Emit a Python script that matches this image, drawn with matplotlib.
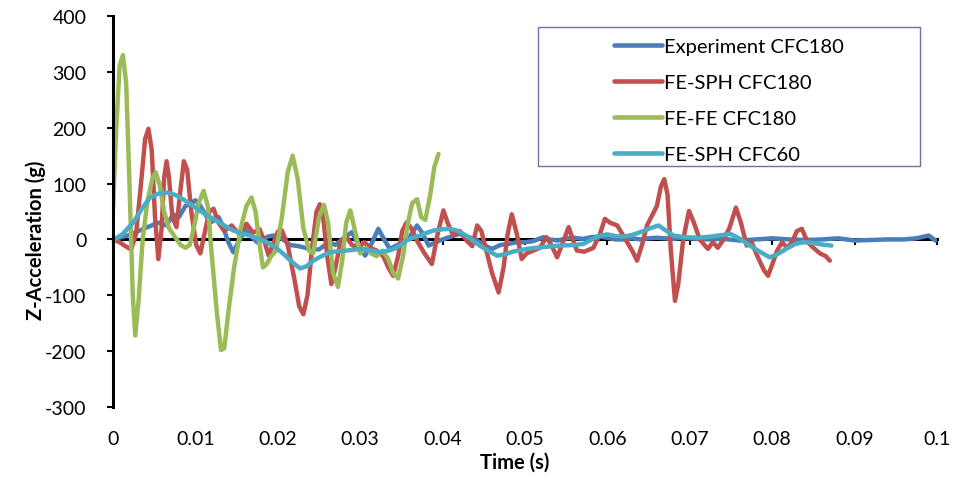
import matplotlib
matplotlib.use("Agg")
import matplotlib.pyplot as plt
from matplotlib.patches import Rectangle

plt.rcParams['font.family'] = ['Lato', 'DejaVu Sans']
plt.rcParams['axes.unicode_minus'] = False

# ---------------- data ----------------
exp_t = [0, 0.002, 0.0037, 0.0055, 0.0065, 0.0073, 0.0080, 0.0088, 0.0095, 0.0100, 0.0106, 0.0112,
         0.0118, 0.0124, 0.0128, 0.0133, 0.0140, 0.0146, 0.0152, 0.0158, 0.0162, 0.0168, 0.0175,
         0.0182, 0.0188, 0.0195, 0.0203, 0.0215, 0.0225, 0.0239, 0.0250, 0.0262, 0.0270, 0.0278,
         0.0285, 0.0290, 0.0298, 0.0306, 0.0313, 0.0322, 0.0329, 0.0336, 0.0345, 0.0352, 0.0360,
         0.0369, 0.0376, 0.0383, 0.0392, 0.0400, 0.0410, 0.0420, 0.0430, 0.0440, 0.0450, 0.0460,
         0.0470, 0.0480, 0.0490, 0.0500, 0.0510, 0.0522, 0.0530, 0.0540, 0.0550, 0.0560, 0.0570,
         0.0580, 0.0590, 0.0600, 0.0610, 0.0620, 0.0630, 0.0640, 0.0650, 0.0660, 0.0670, 0.0680,
         0.0690, 0.0700, 0.0720, 0.0740, 0.0760, 0.0780, 0.0800, 0.0820, 0.0840, 0.0860, 0.0880,
         0.0900, 0.0920, 0.0940, 0.0960, 0.0975, 0.0990, 0.0998]
exp_a = [0, 8, 19, 30, 25, 45, 40, 60, 65, 70, 60, 45,
         30, 35, 40, 25, -5, -23, -5, 10, 16, 5, -5,
         0, 5, 7, 4, -10, -12, -17, -18, -5, -10, 0,
         8, 13, -10, -29, -10, 19, 0, -17, -10, -5, 5,
         25, 10, -11, -5, 0, 5, 10, 5, 0, -10, -17,
         -10, -8, -5, -5, -3, 4, 0, -2, 2, 3, 1,
         4, 5, 3, 0, 0, 2, 0, 2, 3, 2, 1,
         3, 2, 0, 1, -2, 0, 2, 0, -1, 0, 2,
         -2, -1, 0, 0, 2, 7, -2]

sph_t = [0, 0.0008, 0.0015, 0.0022, 0.0028, 0.0034, 0.0039, 0.0043, 0.0047, 0.0051, 0.0055, 0.0059,
         0.0062, 0.0065, 0.0068, 0.0072, 0.0077, 0.0082, 0.0086, 0.0090, 0.0095, 0.0101, 0.0106,
         0.0111, 0.0117, 0.0122, 0.0128, 0.0135, 0.0144, 0.0154, 0.0162, 0.0170, 0.0178, 0.0184,
         0.0189, 0.0195, 0.0200, 0.0205, 0.0212, 0.0220, 0.0226, 0.0231, 0.0236, 0.0242, 0.0247,
         0.0251, 0.0255, 0.0260, 0.0265, 0.0270, 0.0276, 0.0283, 0.0290, 0.0297, 0.0305, 0.0312,
         0.0320, 0.0328, 0.0334, 0.0340, 0.0346, 0.0351, 0.0356, 0.0362, 0.0370, 0.0378, 0.0387,
         0.0394, 0.0401, 0.0406, 0.0413, 0.0421, 0.0429, 0.0436, 0.0442, 0.0447, 0.0451, 0.0460,
         0.0468, 0.0474, 0.0479, 0.0484, 0.0490, 0.0496, 0.0502, 0.0510, 0.0518, 0.0526, 0.0532,
         0.0539, 0.0546, 0.0553, 0.0558, 0.0563, 0.0572, 0.0583, 0.0591, 0.0597, 0.0603, 0.0612,
         0.0620, 0.0630, 0.0636, 0.0642, 0.0648, 0.0655, 0.0660, 0.0665, 0.0669, 0.0673, 0.0677,
         0.0682, 0.0686, 0.0692, 0.0699, 0.0705, 0.0712, 0.0722, 0.0728, 0.0734, 0.0741, 0.0748,
         0.0756, 0.0762, 0.0769, 0.0775, 0.0782, 0.0790, 0.0795, 0.0800, 0.0806, 0.0812, 0.0818,
         0.0824, 0.0830, 0.0836, 0.0843, 0.0850, 0.0858, 0.0865, 0.0870]
sph_a = [0, -5, -12, -18, 10, 100, 180, 198, 160, 40, -35, 20,
         110, 140, 110, 40, 22, 90, 140, 125, 50, -10, -25,
         10, 50, 55, 30, 15, 25, 8, 28, 12, 18, -5,
         -29, -5, 14, 16, -10, -70, -120, -134, -100, -10, 50,
         63, 40, -30, -80, -50, -5, 5, -10, -15, -5, -15,
         -20, -30, -50, -65, -30, 15, 30, 20, -5, -25, -44,
         10, 52, 30, 7, 15, -2, -12, 25, 15, -8, -60,
         -95, -50, 10, 45, 10, -35, -25, -20, -15, 4, -10,
         -32, -5, 22, 0, -20, -22, -15, 10, 37, 30, 25,
         5, -20, -38, -10, 25, 45, 60, 95, 108, 80, -20,
         -110, -80, 0, 51, 30, 0, -17, -5, -15, 0, 20,
         57, 30, -11, -5, -30, -55, -65, -45, -20, -5, -15,
         -5, 15, 19, -5, -15, -25, -30, -38]

fe_t = [0.0000, 0.0004, 0.0008, 0.0012, 0.0016, 0.0020, 0.0024, 0.0027, 0.0031, 0.0036, 0.0042, 0.0048,
        0.0052, 0.0057, 0.0062, 0.0068, 0.0075, 0.0082, 0.0088, 0.0093, 0.0098, 0.0104, 0.0110,
        0.0115, 0.0120, 0.0126, 0.0131, 0.0135, 0.0140, 0.0147, 0.0155, 0.0162, 0.0168, 0.0173,
        0.0178, 0.0182, 0.0186, 0.0192, 0.0198, 0.0205, 0.0212, 0.0218, 0.0224, 0.0231, 0.0238,
        0.0243, 0.0250, 0.0256, 0.0261, 0.0267, 0.0273, 0.0278, 0.0283, 0.0288, 0.0293, 0.0300,
        0.0307, 0.0313, 0.0320, 0.0327, 0.0334, 0.0340, 0.0346, 0.0352, 0.0358, 0.0363, 0.0369,
        0.0374, 0.0379, 0.0385, 0.0390, 0.0395]
fe_a = [55, 200, 310, 330, 280, 100, -100, -172, -110, 0, 70, 110,
        120, 95, 50, 20, 5, -10, -15, -10, 20, 65, 87,
        60, -30, -130, -198, -195, -130, -50, 20, 60, 75, 50,
        -10, -50, -45, -30, -20, 40, 120, 150, 110, 20, -20,
        -25, 40, 62, 30, -60, -85, -40, 30, 52, 20, -25,
        -15, -25, -30, -20, -35, -60, -70, -30, 30, 65, 72,
        40, 35, 80, 130, 153]

c60_t = [0, 0.0012, 0.0025, 0.0035, 0.0045, 0.0055, 0.0065, 0.0075, 0.0085, 0.0095, 0.0106, 0.0116,
         0.0126, 0.0136, 0.0146, 0.0156, 0.0166, 0.0177, 0.0187, 0.0197, 0.0207, 0.0217, 0.0227,
         0.0235, 0.0243, 0.0253, 0.0263, 0.0273, 0.0283, 0.0294, 0.0304, 0.0314, 0.0324, 0.0334,
         0.0341, 0.0349, 0.0356, 0.0364, 0.0373, 0.0381, 0.0389, 0.0399, 0.0409, 0.0417, 0.0425,
         0.0435, 0.0445, 0.0455, 0.0466, 0.0475, 0.0485, 0.0502, 0.0520, 0.0542, 0.0560, 0.0571,
         0.0581, 0.0591, 0.0600, 0.0610, 0.0620, 0.0630, 0.0640, 0.0652, 0.0662, 0.0670, 0.0680,
         0.0695, 0.0710, 0.0725, 0.0740, 0.0749, 0.0760, 0.0773, 0.0785, 0.0797, 0.0807, 0.0817,
         0.0828, 0.0838, 0.0848, 0.0860, 0.0872]
c60_a = [-2, 10, 31, 55, 75, 82, 84, 80, 72, 62, 51, 42,
         33, 24, 16, 11, 7, 1, -5, -14, -26, -40, -52,
         -48, -38, -30, -23, -21, -20, -18, -17, -20, -23, -20,
         -17, -10, -2, 3, 7, 12, 16, 18, 19, 16, 10,
         0, -11, -20, -29, -27, -22, -17, -14, -11, -10, -8,
         0, 7, 9, 6, 5, 8, 13, 20, 25, 17, 7,
         4, 3, 5, 8, 10, 2, -11, -22, -32, -26, -17,
         -8, -5, -6, -9, -11]

labels = ['Experiment CFC180', 'FE-SPH CFC180', 'FE-FE CFC180', 'FE-SPH CFC60']
colors = ['#4A7EBB', '#C0504D', '#9BBB59', '#4BACC6']
x_ticks = [0, 0.01, 0.02, 0.03, 0.04, 0.05, 0.06, 0.07, 0.08, 0.09, 0.1]
x_tick_labels = ['0', '0.01', '0.02', '0.03', '0.04', '0.05', '0.06', '0.07', '0.08', '0.09', '0.1']
y_ticks = [-300, -200, -100, 0, 100, 200, 300, 400]

# ---------------- figure ----------------
fig = plt.figure(figsize=(9.6, 4.81), dpi=100)
ax = fig.add_axes([113/960, 1-408/481, 824/960, 391/481])

series = [(exp_t, exp_a), (sph_t, sph_a), (fe_t, fe_a), (c60_t, c60_a)]
for (t, a), lab, col in zip(series, labels, colors):
    ax.plot(t, a, color=col, lw=3.2, label=lab, solid_joinstyle='round', solid_capstyle='round')

ax.set_xlim(0, 0.1)
ax.set_ylim(-300, 400)
ax.spines['top'].set_visible(False)
ax.spines['right'].set_visible(False)
ax.spines['bottom'].set_position(('data', 0))
ax.spines['bottom'].set_linewidth(2.2)
ax.spines['bottom'].set_zorder(1)
ax.spines['left'].set_linewidth(2.2)

ax.set_xticks(x_ticks)
ax.set_xticklabels(x_tick_labels)
ax.set_yticks(y_ticks)
ax.tick_params(axis='x', direction='out', length=4, width=1.5, pad=133, labelsize=14)
ax.tick_params(axis='y', direction='out', length=4, width=1.5, pad=15, labelsize=14)

ax.set_xlabel('Time (s)', fontsize=14.5, fontweight='bold')
ax.xaxis.set_label_coords(0.487, -0.113)
ax.set_ylabel('Z-Acceleration (g)', fontsize=14.5, fontweight='bold')
ax.yaxis.set_label_coords(-0.081, 0.43)

# legend box
box = Rectangle((0.516, 0.616), 0.463, 0.356, transform=ax.transAxes, fill=True,
                facecolor='white', edgecolor='#7F6A9F', lw=1.0, zorder=4)
ax.add_patch(box)
leg = ax.legend(loc='center', bbox_to_anchor=(0.7475, 0.784), frameon=False, fontsize=14.5,
                handlelength=2.4, handletextpad=0.1, labelspacing=0.93, borderpad=0)
leg.set_zorder(5)
for line in leg.get_lines():
    line.set_linewidth(3.3)

fig.savefig('out.png', dpi=100)
